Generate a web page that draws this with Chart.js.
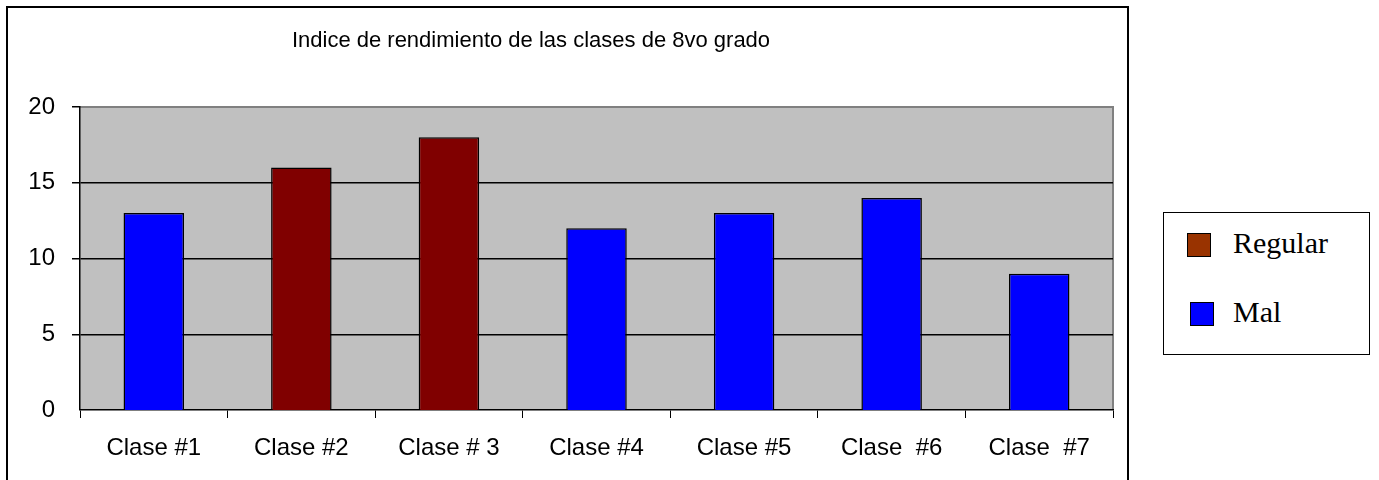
<!DOCTYPE html>
<html>
<head>
<meta charset="utf-8">
<script src="https://cdn.jsdelivr.net/npm/chart.js@4"></script>
<style>
    body { margin: 0; background: #fff; }
    #wrap { position: relative; width: 1379px; height: 480px; overflow: hidden; }
    #legend {
        position: absolute; left: 1163px; top: 212px; width: 205px; height: 141px;
        border: 1.5px solid #000; background: #fff;
        font-family: "Liberation Serif", "Times New Roman", serif; font-size: 30px; color: #000;
    }
    .item { position: absolute; left: 0; height: 30px; line-height: 30px; }
    .swatch { position: absolute; left: 23px; top: 3px; width: 22px; height: 22px; border: 1.5px solid #000; }
    .lbl { position: absolute; left: 69px; top: -2px; white-space: nowrap; }
</style>
</head>
<body>
<div id="wrap">
    <canvas id="chart" width="1379" height="480"></canvas>
    <div id="legend"></div>
</div>
<script>
const title = 'Indice de rendimiento de las clases de 8vo grado';
const categories = ['Clase #1', 'Clase #2', 'Clase # 3', 'Clase #4', 'Clase #5', 'Clase  #6', 'Clase  #7'];
const regular = [null, 16, 18, null, null, null, null];
const mal = [13, null, null, 12, 13, 14, 9];
const legendLabels = ['Regular', 'Mal'];
const legendColors = ['#993300', '#0000ff'];
const barColors = ['#800000', '#0000ff'];
const yTicks = [0, 5, 10, 15, 20];

// frame, plot background and title
const decor = {
    id: 'decor',
    beforeDraw(chart) {
        const ctx = chart.ctx;
        const a = chart.chartArea;
        ctx.save();
        ctx.fillStyle = '#c0c0c0';
        ctx.fillRect(a.left, a.top, a.right - a.left, a.bottom - a.top);
        ctx.strokeStyle = '#808080';
        ctx.lineWidth = 2;
        ctx.beginPath();
        ctx.moveTo(a.left, a.top);
        ctx.lineTo(a.right, a.top);
        ctx.lineTo(a.right, a.bottom);
        ctx.stroke();
        ctx.strokeStyle = '#000';
        ctx.lineWidth = 2;
        ctx.strokeRect(7, 7, 1121, 500);
        ctx.fillStyle = '#000';
        ctx.font = '22px "Liberation Sans", Arial, sans-serif';
        ctx.textAlign = 'center';
        ctx.textBaseline = 'alphabetic';
        ctx.fillText(title, 531, 47);
        ctx.restore();
    }
};

const ctx = document.getElementById('chart').getContext('2d');
new Chart(ctx, {
    type: 'bar',
    data: {
        labels: categories,
        datasets: [
            { label: legendLabels[0], data: regular, backgroundColor: barColors[0], borderColor: '#000', borderWidth: 1.5 },
            { label: legendLabels[1], data: mal, backgroundColor: barColors[1], borderColor: '#000', borderWidth: 1.5 }
        ]
    },
    options: {
        responsive: false,
        animation: false,
        grouped: false,
        categoryPercentage: 1,
        barPercentage: 0.41,
        layout: { padding: { left: 0, top: 107, right: 266, bottom: 0 } },
        scales: {
            x: {
                afterFit: s => { s.height = 70; },
                grid: { offset: true, drawOnChartArea: false, drawTicks: true, tickLength: 8, tickColor: '#000' },
                border: { color: '#000', width: 1.5 },
                ticks: { color: '#000', padding: 16, font: { family: '"Liberation Sans", Arial', size: 24 } }
            },
            y: {
                min: 0, max: 20,
                afterFit: s => { s.width = 80; },
                afterBuildTicks: s => { s.ticks = yTicks.map(v => ({ value: v })); },
                grid: {
                    color: c => c.tick && c.tick.value === 20 ? '#808080' : '#000',
                    lineWidth: c => c.tick && c.tick.value === 0 ? 0 : 1.5,
                    tickLength: 8, tickColor: '#000'
                },
                border: { color: '#000', width: 1.5 },
                ticks: { color: '#000', padding: 17, font: { family: '"Liberation Sans", Arial', size: 24 } }
            }
        },
        plugins: { legend: { display: false }, tooltip: { enabled: false } }
    },
    plugins: [decor]
});

// html legend
const legend = document.getElementById('legend');
legend.innerHTML = legendLabels.map((name, i) => `
    <div class="item" style="top:${i === 0 ? 17 : 86}px; ${i === 1 ? 'left:3px;' : ''}">
        <span class="swatch" style="background:${legendColors[i]}"></span>
        <span class="lbl" style="${i === 1 ? 'left:66px;' : ''}">${name}</span>
    </div>
`).join('');
</script>
</body>
</html>
